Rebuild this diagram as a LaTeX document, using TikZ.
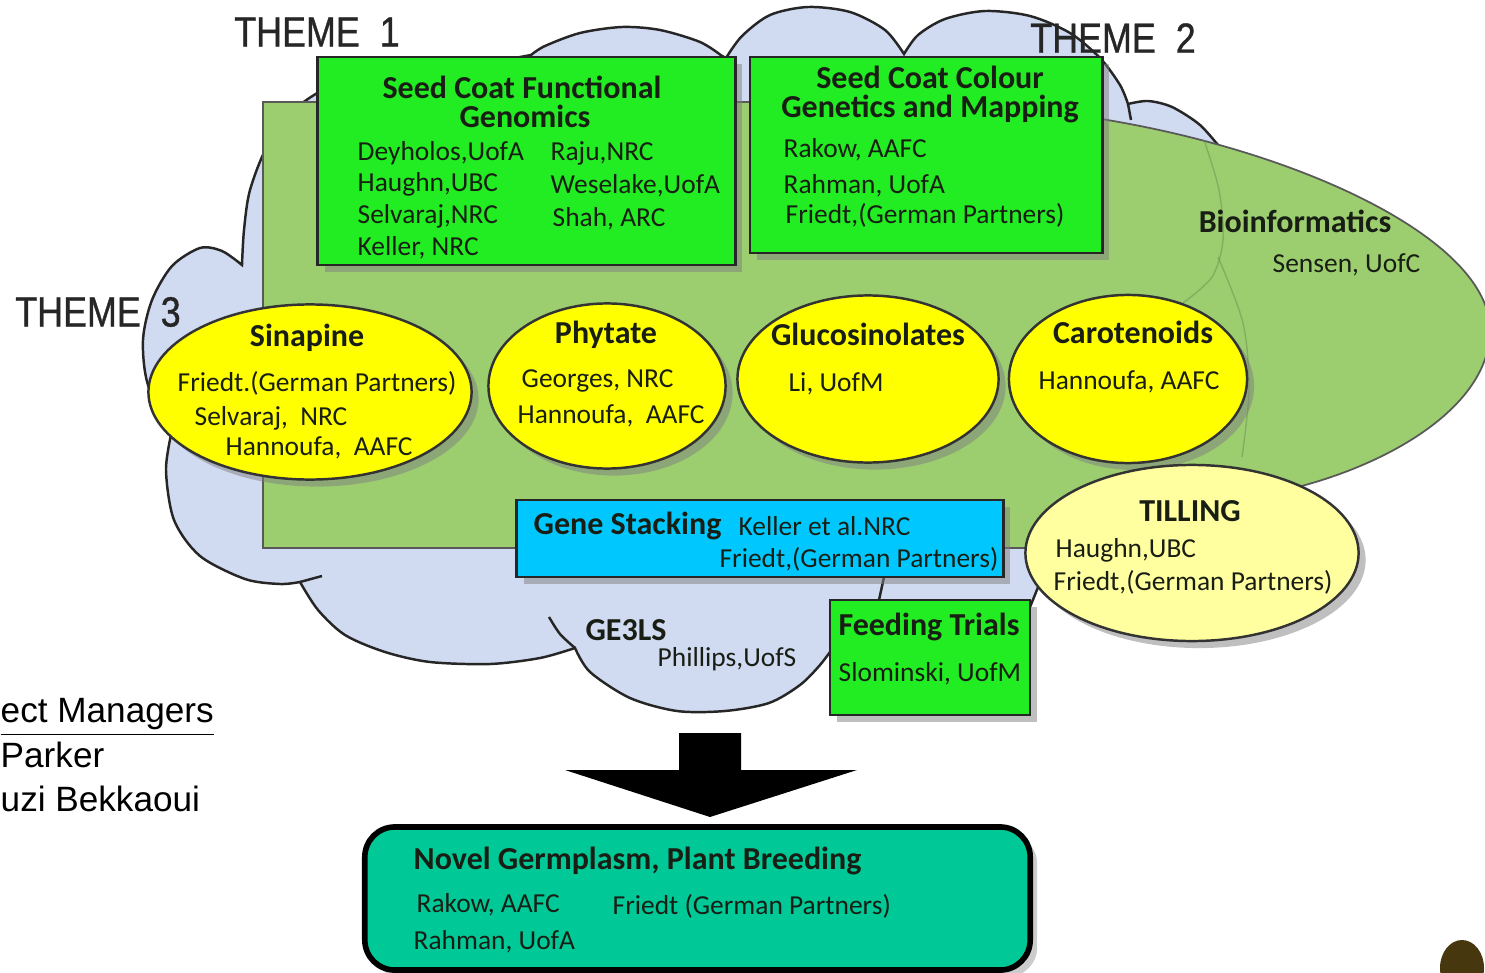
\documentclass[tikz,border=0pt]{standalone}
\usepackage{fontspec}
\setmainfont{Carlito}
\newfontfamily\themefont[FakeStretch=0.85,FakeBold=0.8]{Liberation Sans}
\newfontfamily\arialfont{Liberation Sans}
\usetikzlibrary{shapes.geometric,shadows}
\definecolor{cloudblue}{RGB}{208,218,240}
\definecolor{leafgreen}{RGB}{156,206,112}
\definecolor{boxgreen}{RGB}{34,236,34}
\definecolor{lemon}{RGB}{255,255,0}
\definecolor{paleyellow}{RGB}{255,255,160}
\definecolor{stackblue}{RGB}{0,200,255}
\definecolor{breedteal}{RGB}{0,200,150}
\definecolor{inkdark}{RGB}{25,30,20}
\definecolor{spot}{RGB}{70,55,15}
\tikzset{
 cloud/.style={fill=cloudblue,draw=black!85,line width=0.7pt},
 leaf/.style={fill=leafgreen,draw=black!65,line width=0.5pt},
 ghost/.style={draw=leafgreen!70!black,line width=0.4pt,opacity=.5},
 greenbox/.style={draw=black!85,line width=0.8pt,fill=boxgreen,inner sep=0pt,outer sep=0pt,
   drop shadow={shadow xshift=2pt,shadow yshift=-2pt,opacity=.5}},
 topic/.style={ellipse,draw=black!80,line width=0.7pt,fill=lemon,inner sep=0pt,outer sep=0pt,
   drop shadow={shadow xshift=2pt,shadow yshift=-2pt,opacity=.5}},
 ttl/.style={font=\fontsize{9.1}{9}\selectfont\bfseries,text=inkdark,inner sep=0pt,anchor=base},
 who/.style={font=\fontsize{7.8}{9}\selectfont,text=inkdark,inner sep=0pt,anchor=base west},
 theme/.style={font=\themefont\fontsize{12}{14}\selectfont,text=black!85,inner sep=0pt},
 mgr/.style={font=\arialfont\fontsize{10}{12}\selectfont,inner sep=0pt,anchor=base west}
}
\begin{document}
\begin{tikzpicture}[x=0.01cm,y=-0.01cm]
\useasboundingbox (0,0) rectangle (1485,973);

% cloud
\path[cloud] plot[smooth] coordinates {(340,80) (300,105) (268,145) (250,190) (244,230) (242,265)}
 -- plot[smooth] coordinates {(242,265) (222,251) (200,248) (172,266) (152,300) (143,340) (148,385) (172,430)}
 -- plot[smooth] coordinates {(172,430) (166,470) (174,520) (200,556) (245,579) (280,584) (300,582)}
 -- plot[smooth] coordinates {(300,582) (318,610) (345,635) (385,652) (430,662) (490,664) (540,658) (575,648)}
 -- plot[smooth] coordinates {(575,648) (590,672) (630,698) (677,711) (725,711) (769,703) (800,685) (820,665) (835,645)}
 -- (1020,650) -- (1028,612) -- (1045,570) -- (1150,300) -- (1222,150)
 -- plot[smooth] coordinates {(1222,150) (1200,125) (1172,107) (1148,101) (1128,104)}
 -- plot[smooth] coordinates {(1128,104) (1120,85) (1100,58) (1070,33) (1030,16) (985,11) (945,19) (918,35) (904,54)}
 -- plot[smooth] coordinates {(904,54) (885,30) (850,12) (808,7) (770,15) (742,36) (726,58)}
 -- plot[smooth] coordinates {(722,56) (700,42) (660,30) (622,27) (580,33) (545,46) (531,55)}
 -- (450,70) -- (340,80) -- cycle;
\draw[cloud,fill=none] plot[smooth] coordinates {(549,617) (560,634) (575,648)};
\draw[cloud,fill=none] (300,582) -- (322,576);
\draw[cloud,fill=none] (884,577) -- (879,600);
\draw[cloud,fill=none] (1128,104) -- (1131,120);

% green field and bioinformatics lobe
\path[leaf] (263,102) rectangle (1100,548);
\fill[leafgreen] (1095,118) .. controls (1300,150) and (1490,240) .. (1490,330)
 .. controls (1490,420) and (1350,485) .. (1240,498) -- (1090,510) -- (1090,118) -- cycle;
\draw[draw=black!65,line width=0.5pt] (1095,118) .. controls (1300,150) and (1490,240) .. (1490,330)
 .. controls (1490,420) and (1350,485) .. (1240,498);
\draw[ghost] plot[smooth] coordinates {(1204,140) (1219,190) (1223,240) (1212,277) (1183,303)};
\draw[ghost] plot[smooth] coordinates {(1218,257) (1243,323) (1249,390) (1242,457)};
\node[ttl] (bio) at (1295,232) {Bioinformatics};
\node[who] (bio1) at (1272,272) {Sensen, UofC};

% theme 1
\node[greenbox,minimum width=4.17cm,minimum height=2.08cm] (fgbox) at (526.5,161) {};
\node[ttl] (fgt1) at (522,99) {Seed Coat Functional};
\node[ttl] (fgt2) at (525,128) {Genomics};
\node[who] (fg1) at (357,160) {Deyholos,UofA};
\node[who] (fg2) at (357,192) {Haughn,UBC};
\node[who] (fg3) at (357,224) {Selvaraj,NRC};
\node[who] (fg4) at (357,255) {Keller, NRC};
\node[who] (fg5) at (550,160) {Raju,NRC};
\node[who] (fg6) at (550,194) {Weselake,UofA};
\node[who] (fg7) at (552,226) {Shah, ARC};

% theme 2
\node[greenbox,minimum width=3.52cm,minimum height=1.96cm] (colbox) at (926,155) {};
\node[ttl] (colt1) at (930,89) {Seed Coat Colour};
\node[ttl] (colt2) at (930,118) {Genetics and Mapping};
\node[who] (col1) at (783,158) {Rakow, AAFC};
\node[who] (col2) at (783,193) {Rahman, UofA};
\node[who] (col3) at (785,224) {Friedt,(German Partners)};

% theme 3
\node[topic,minimum width=3.23cm,minimum height=1.75cm] (sinapine) at (310,392) {};
\node[ttl] (sint) at (307,346) {Sinapine};
\node[who] (sin1) at (177,391) {Friedt.(German Partners)};
\node[who] (sin2) at (194,425) {Selvaraj,\ \ NRC};
\node[who] (sin3) at (225,455) {Hannoufa,\ \ AAFC};

\node[topic,minimum width=2.37cm,minimum height=1.65cm] (phytate) at (607,386) {};
\node[ttl] (phyt) at (606,343) {Phytate};
\node[who] (phy1) at (521,387) {Georges, NRC};
\node[who] (phy2) at (517,423) {Hannoufa,\ \ AAFC};

\node[topic,minimum width=2.61cm,minimum height=1.67cm] (gluco) at (868,379) {};
\node[ttl] (glut) at (868,345) {Glucosinolates};
\node[who] (glu1) at (788,391) {Li, UofM};

\node[topic,minimum width=2.38cm,minimum height=1.68cm] (carot) at (1128,379) {};
\node[ttl] (cart) at (1133,343) {Carotenoids};
\node[who] (car1) at (1038,389) {Hannoufa, AAFC};

\node[topic,fill=paleyellow,minimum width=3.33cm,minimum height=1.76cm] (tilling) at (1192,553) {};
\node[ttl] (tilt) at (1190,521) {TILLING};
\node[who] (til1) at (1055,557) {Haughn,UBC};
\node[who] (til2) at (1053,590) {Friedt,(German Partners)};

\node[greenbox,fill=stackblue,minimum width=4.86cm,minimum height=0.77cm] (stackbox) at (760,538.5) {};
\node[ttl,anchor=base west] (stackt) at (533,534) {Gene Stacking};
\node[who] (stk1) at (738,535) {Keller et al.NRC};
\node[who,anchor=base east] (stk2) at (999,567) {Friedt,(German Partners)};

\node[greenbox,minimum width=2.0cm,minimum height=1.15cm] (feedbox) at (930,657.5) {};
\node[ttl] (feedt) at (929,635) {Feeding Trials};
\node[who] (feed1) at (838,681) {Slominski, UofM};

\node[ttl] (gels) at (626,640) {GE3LS};
\node[who] (gels1) at (657,666) {Phillips,UofS};

% outcome
\fill[black] (679,733) -- (741,733) -- (741,770) -- (857,770) -- (710,817) -- (565,770) -- (679,770) -- cycle;
\node[draw=black,line width=1.6pt,rounded corners=0.3cm,fill=breedteal,minimum width=6.65cm,
  minimum height=1.43cm,drop shadow={shadow xshift=2pt,shadow yshift=-2pt,opacity=.4}] (breed) at (697.5,898.5) {};
\node[ttl,anchor=base west] (breedt) at (413,869) {Novel Germplasm, Plant Breeding};
\node[who] (br1) at (416,912) {Rakow, AAFC};
\node[who] (br2) at (612,914) {Friedt (German Partners)};
\node[who] (br3) at (413,949) {Rahman, UofA};

% labels
\node[theme] (th1) at (317,32) {THEME\ \ 1};
\node[theme] (th2) at (1113,38) {THEME\ \ 2};
\node[theme] (th3) at (98,312) {THEME\ \ 3};
\node[mgr] (pm) at (0,722) {\underline{ect Managers}};
\node[mgr] (pm1) at (0,767) {Parker};
\node[mgr] (pm2) at (0,811) {uzi Bekkaoui};
\fill[spot] (1462,968) ellipse (22 and 28);
\end{tikzpicture}
\end{document}
